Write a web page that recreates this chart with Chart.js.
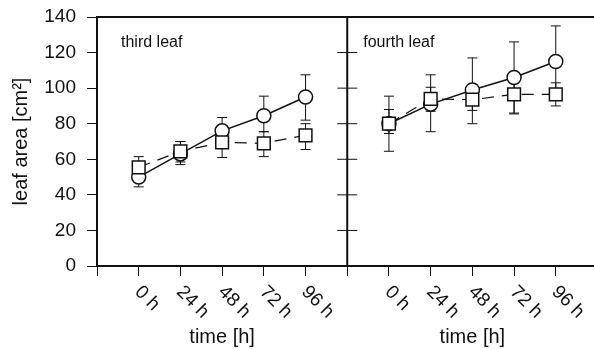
<!DOCTYPE html>
<html>
<head>
<meta charset="utf-8">
<script src="https://cdn.jsdelivr.net/npm/chart.js@4.4.1/dist/chart.umd.min.js"></script>
<style>
  html, body { margin: 0; padding: 0; background: #fff; }
  #wrap { width: 594px; height: 349px; }
</style>
</head>
<body>
<div id="wrap"><canvas id="chart"></canvas></div>
<script>
// sampling times (h) and the x offset used for the right-hand panel
var hours = [0, 24, 48, 72, 96];
var panelOffset = 144;
var xTicks = [-24, 0, 24, 48, 72, 96, 120, 144, 168, 192, 216, 240];
var yTicks = [0, 20, 40, 60, 80, 100, 120, 140];

// third leaf
var thirdCircle = [50, 63, 76, 84.5, 95];
var thirdCircleHi = [56, 70, 83.5, 95.5, 107.5];
var thirdCircleLo = [44.5, 57, 68, 75.5, 82];
var thirdSquare = [55.5, 64.5, 69.5, 69, 73.5];
var thirdSquareHi = [61.5, 70, 77, 75.5, 80];
var thirdSquareLo = [49, 58.5, 61, 61.5, 65.5];

// fourth leaf
var fourthCircle = [80, 91, 99, 106, 115];
var fourthCircleHi = [95.5, 107.5, 117, 126, 135];
var fourthCircleLo = [64.5, 75.5, 80, 86, 95];
var fourthSquare = [80, 94, 93.5, 96.5, 96.5];
var fourthSquareHi = [88, 100.5, 101, 103, 103];
var fourthSquareLo = [74.5, 87, 87.5, 85.5, 90];

var FONT = "'Liberation Sans', Arial, Helvetica, sans-serif";
var INK = "#111";

function pts(vals, offset) {
  return hours.map(function (h, i) { return { x: h + offset, y: vals[i] }; });
}

function hourLabel(v) {
  var h = v >= panelOffset ? v - panelOffset : v;
  if (v < 0 || v === 120) return "";
  return h + " h";
}

function circleSet(vals, lo, hi, offset) {
  return {
    data: pts(vals, offset), errLo: lo, errHi: hi, order: 2,
    borderColor: INK, borderWidth: 1.5, pointStyle: "circle", pointRadius: 7,
    pointBackgroundColor: "#fff", pointBorderColor: INK, pointBorderWidth: 1.5,
    tension: 0, fill: false
  };
}

function squareSet(vals, lo, hi, offset) {
  return {
    data: pts(vals, offset), errLo: lo, errHi: hi, order: 1,
    borderColor: INK, borderWidth: 1.2, borderDash: [12, 8], pointStyle: "rect", pointRadius: 9,
    pointBackgroundColor: "#fff", pointBorderColor: INK, pointBorderWidth: 1.5,
    tension: 0, fill: false
  };
}

// error bars, drawn under the markers
var errorBars = {
  id: "errorBars",
  beforeDatasetsDraw: function (chart) {
    var ctx = chart.ctx, xs = chart.scales.x, ys = chart.scales.y;
    ctx.save();
    ctx.strokeStyle = "#111";
    ctx.lineWidth = 1;
    chart.data.datasets.forEach(function (ds) {
      ds.data.forEach(function (p, i) {
        var x = xs.getPixelForValue(p.x);
        var y1 = ys.getPixelForValue(ds.errLo[i]);
        var y2 = ys.getPixelForValue(ds.errHi[i]);
        ctx.beginPath();
        ctx.moveTo(x, y1); ctx.lineTo(x, y2);
        ctx.moveTo(x - 5, y1); ctx.lineTo(x + 5, y1);
        ctx.moveTo(x - 5, y2); ctx.lineTo(x + 5, y2);
        ctx.stroke();
      });
    });
    ctx.restore();
  }
};

// frame, panel divider, rotated tick labels and panel texts
var panels = {
  id: "panels",
  afterDraw: function (chart) {
    var ctx = chart.ctx, xs = chart.scales.x, ys = chart.scales.y, a = chart.chartArea;
    var divX = xs.getPixelForValue(120);
    ctx.save();
    ctx.strokeStyle = INK;
    ctx.lineWidth = 2;
    ctx.beginPath();
    ctx.moveTo(a.left, a.top); ctx.lineTo(a.right, a.top);
    ctx.moveTo(divX, a.top); ctx.lineTo(divX, a.bottom);
    ctx.stroke();
    ctx.lineWidth = 1;
    ctx.beginPath();
    yTicks.forEach(function (v) {
      var y = ys.getPixelForValue(v);
      if (v === 0 || v === 140) return;
      ctx.moveTo(divX - 10, y); ctx.lineTo(divX + 10, y);
    });
    ctx.stroke();

    ctx.fillStyle = INK;
    ctx.font = "19px " + FONT;
    ctx.textAlign = "left";
    ctx.textBaseline = "middle";
    xs.ticks.forEach(function (t) {
      var label = hourLabel(t.value);
      if (!label) return;
      ctx.save();
      ctx.translate(xs.getPixelForValue(t.value) - 1, a.bottom + 23);
      ctx.rotate(Math.PI / 4);
      ctx.fillText(label, 0, 0);
      ctx.restore();
    });

    ctx.font = "20px " + FONT;
    ctx.textAlign = "center";
    ctx.fillText("time [h]", xs.getPixelForValue(48), 337);
    ctx.fillText("time [h]", xs.getPixelForValue(48 + panelOffset), 337);

    ctx.font = "16px " + FONT;
    ctx.textAlign = "left";
    ctx.fillText("third leaf", a.left + 24, 43);
    ctx.fillText("fourth leaf", divX + 16, 43);
    ctx.restore();
  }
};

new Chart(document.getElementById("chart"), {
  type: "line",
  data: {
    datasets: [
      circleSet(thirdCircle, thirdCircleLo, thirdCircleHi, 0),
      squareSet(thirdSquare, thirdSquareLo, thirdSquareHi, 0),
      circleSet(fourthCircle, fourthCircleLo, fourthCircleHi, panelOffset),
      squareSet(fourthSquare, fourthSquareLo, fourthSquareHi, panelOffset)
    ]
  },
  plugins: [errorBars, panels],
  options: {
    responsive: true,
    maintainAspectRatio: false,
    animation: false,
    layout: { autoPadding: false, padding: { top: 17, right: 0, bottom: 0, left: 0 } },
    plugins: { legend: { display: false }, tooltip: { enabled: false } },
    scales: {
      x: {
        type: "linear",
        min: -24,
        max: 262,
        afterBuildTicks: function (scale) {
          scale.ticks = xTicks.map(function (v) { return { value: v }; });
        },
        afterFit: function (scale) {
          scale.height = 83;
          scale.paddingLeft = 0; scale.paddingRight = 0;
        },
        ticks: { display: false },
        grid: { drawOnChartArea: false, drawTicks: true, tickLength: 10, color: INK, lineWidth: 1 },
        border: { display: true, color: INK, width: 2 }
      },
      y: {
        min: 0,
        max: 140,
        afterBuildTicks: function (scale) {
          scale.ticks = yTicks.map(function (v) { return { value: v }; });
        },
        afterFit: function (scale) {
          scale.width = 97;
          scale.paddingTop = 0; scale.paddingBottom = 0;
        },
        ticks: { color: INK, font: { family: FONT, size: 19 }, padding: 11 },
        grid: { drawOnChartArea: false, drawTicks: true, tickLength: 10, color: INK, lineWidth: 1 },
        border: { display: true, color: INK, width: 2 },
        title: {
          display: true, text: "leaf area [cm²]", color: INK,
          font: { family: FONT, size: 20 }, padding: { top: 9, bottom: 0 }
        }
      }
    }
  }
});
</script>
</body>
</html>
